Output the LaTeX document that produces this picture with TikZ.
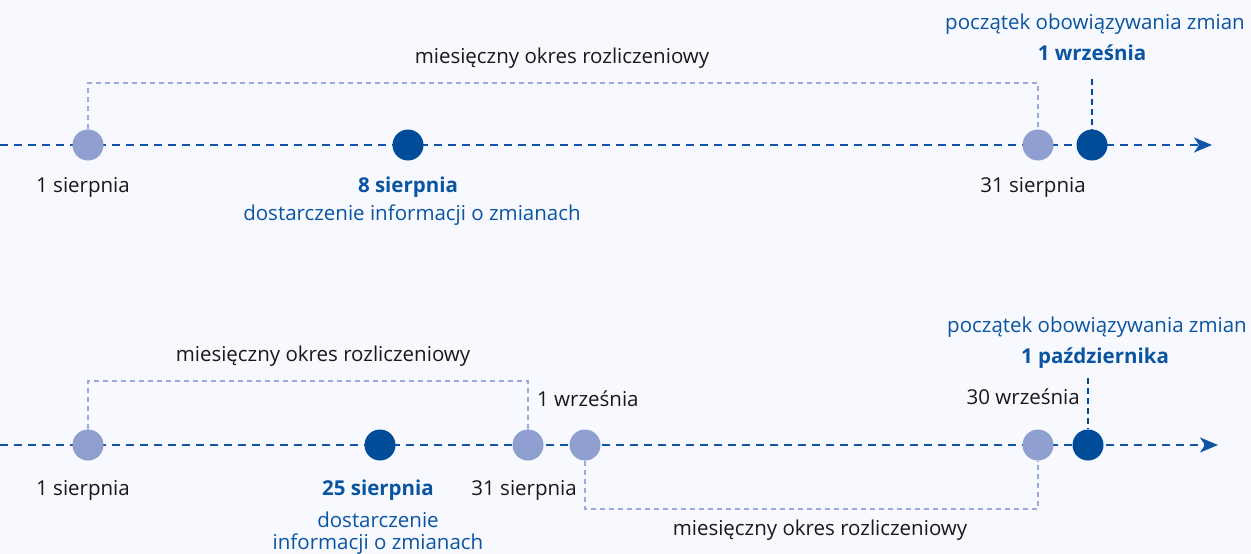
\documentclass[tikz,border=0pt]{standalone}
\usepackage{fontspec}
\setmainfont{Open Sans}
\usetikzlibrary{arrows.meta}
\definecolor{bg}{RGB}{247,249,254}
\definecolor{axisblue}{RGB}{16,84,166}
\definecolor{dotdark}{RGB}{0,76,152}
\definecolor{dotlight}{RGB}{142,159,208}
\definecolor{brk}{RGB}{152,172,220}
\definecolor{txtblue}{RGB}{10,84,162}
\definecolor{txt}{RGB}{25,25,25}
\tikzset{
  axis/.style={draw=axisblue,line width=2.4pt,dash pattern=on 8pt off 6pt,-{Stealth[length=18pt,width=15pt,inset=5pt]}},
  darkdot/.style={circle,fill=dotdark,minimum size=31pt,inner sep=0pt},
  lightdot/.style={circle,fill=dotlight,minimum size=31pt,inner sep=0pt},
  bracketline/.style={draw=brk,line width=1.3pt,dash pattern=on 5pt off 4pt},
  marker/.style={draw=dotdark,line width=1.6pt,dash pattern=on 6pt off 4pt},
  lbl/.style={text=txt,font=\fontsize{20.5}{24}\selectfont,inner sep=0pt},
  blbl/.style={text=txtblue,font=\fontsize{20.5}{24}\selectfont,inner sep=0pt},
  bblbl/.style={text=txtblue,font=\fontsize{20.5}{24}\selectfont\bfseries,inner sep=0pt},
}
\begin{document}
\begin{tikzpicture}[x=1pt,y=-1pt]
\fill[bg] (0,0) rectangle (1251,554);
\useasboundingbox (0,0) rectangle (1251,554);
% ---------- top timeline ----------
\coordinate (s1) at (0,145);
\coordinate (e1) at (1212,145);
\draw[axis] (s1) -- (e1);
\node[lightdot] (t1) at (88,145) {};
\node[darkdot]  (t2) at (408,145) {};
\node[lightdot] (t3) at (1038,145) {};
\node[darkdot]  (t4) at (1092,145) {};
\coordinate (tb) at (0,83);
\draw[bracketline] (t1.north) -- (t1.north |- tb) -| (t3.north);
\coordinate (tm) at (1092,79);
\draw[marker] (tm) -- (t4.north);
\node[lbl] (tl1) at (562,58) {miesięczny okres rozliczeniowy};
\node[blbl] (tl2) at (1095,24) {początek obowiązywania zmian};
\node[bblbl] (tl3) at (1092,53) {1 września};
\node[lbl] (tl4) at (83,187) {1 sierpnia};
\node[bblbl] (tl5) at (408,187) {8 sierpnia};
\node[blbl] (tl6) at (412,215) {dostarczenie informacji o zmianach};
\node[lbl] (tl7) at (1033,187) {31 sierpnia};
% ---------- bottom timeline ----------
\coordinate (s2) at (0,445);
\coordinate (e2) at (1218,445);
\draw[axis] (s2) -- (e2);
\node[lightdot] (b1) at (88,445) {};
\node[darkdot]  (b2) at (380,445) {};
\node[lightdot] (b3) at (528,445) {};
\node[lightdot] (b4) at (585,445) {};
\node[lightdot] (b5) at (1038,445) {};
\node[darkdot]  (b6) at (1088,445) {};
\coordinate (bb) at (0,381);
\draw[bracketline] (b1.north) -- (b1.north |- bb) -| (b3.north);
\coordinate (bc) at (0,509);
\draw[bracketline] (b4.south) -- (b4.south |- bc) -| (b5.south);
\coordinate (bm) at (1088,378);
\draw[marker] (bm) -- (b6.north);
\node[lbl] (bl1) at (323,356) {miesięczny okres rozliczeniowy};
\node[lbl,anchor=west] (bl2) at (537,399) {1 września};
\node[lbl,anchor=east] (bl3) at (577,490) {31 sierpnia};
\node[lbl] (bl4) at (820,530) {miesięczny okres rozliczeniowy};
\node[lbl] (bl5) at (83,490) {1 sierpnia};
\node[bblbl] (bl6) at (378,490) {25 sierpnia};
\node[blbl] (bl7) at (378,520) {dostarczenie};
\node[blbl] (bl8) at (378,544) {informacji o zmianach};
\node[lbl,anchor=east] (bl9) at (1080,397) {30 września};
\node[blbl] (bl10) at (1097,327) {początek obowiązywania zmian};
\node[bblbl] (bl11) at (1095,358) {1 października};
\end{tikzpicture}
\end{document}
